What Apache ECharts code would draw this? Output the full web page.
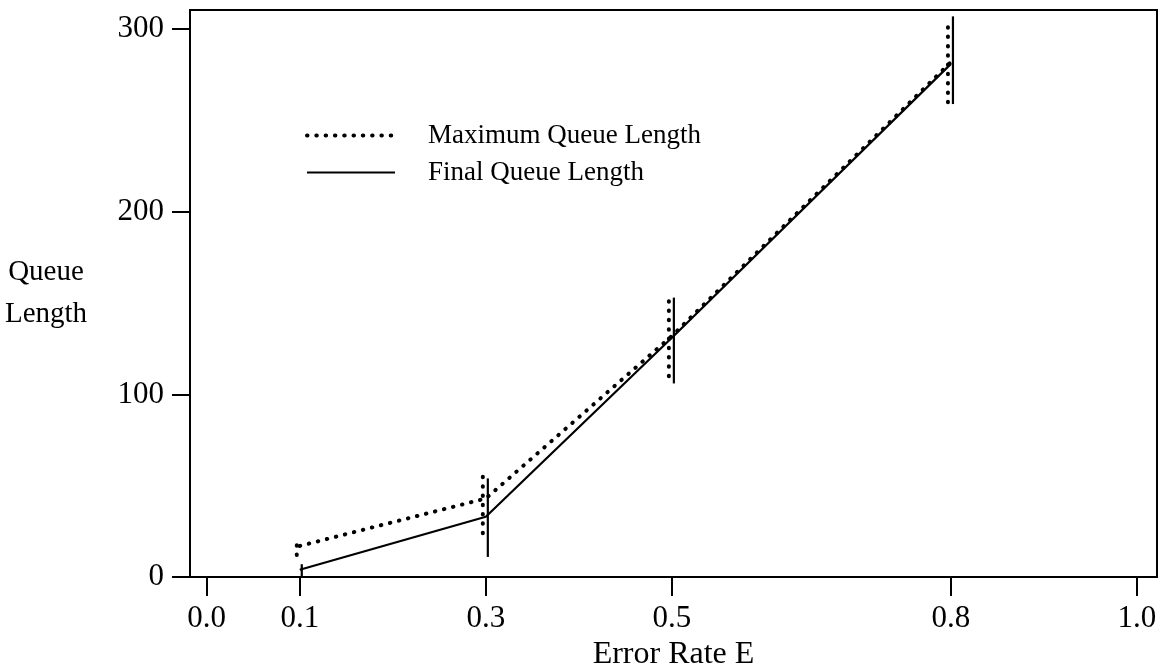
<!DOCTYPE html>
<html>
<head>
<meta charset="utf-8">
<script src="https://cdn.jsdelivr.net/npm/echarts@6/dist/echarts.min.js"></script>
<style>html,body{margin:0;padding:0;background:#fff}#c{width:1160px;height:669px}</style>
</head>
<body>
<div id="c"></div>
<script>
// ---- data ----
var errorRate = [0.1, 0.3, 0.5, 0.8];
var maxQueue = [17, 43, 132, 282];
var finalQueue = [4, 33, 131, 281];
var maxLow = [12, 24, 110, 260];
var maxHigh = [18, 58, 152, 305];
var finalLow = [0, 11, 106, 259];
var finalHigh = [7, 54, 153, 307];
var xTicks = [0.0, 0.1, 0.3, 0.5, 0.8, 1.0];
var yTicks = [0, 100, 200, 300];
var seriesNames = ['Maximum Queue Length', 'Final Queue Length'];

var FONT = 'Liberation Serif';
var DOT = [0.5, 8.8];

function pairs(xs, ys) { return xs.map(function (x, i) { return [x, ys[i]]; }); }
function bars(xs, lo, hi) { return xs.map(function (x, i) { return [x, lo[i], hi[i]]; }); }

function barRenderer(offset, dash, width) {
  return function (params, api) {
    var p1 = api.coord([api.value(0), api.value(1)]);
    var p2 = api.coord([api.value(0), api.value(2)]);
    return {
      type: 'line',
      shape: { x1: p1[0] + offset, y1: p1[1], x2: p2[0] + offset, y2: p2[1] },
      style: { stroke: '#000', lineWidth: width, lineDash: dash, lineCap: dash ? 'round' : 'butt' }
    };
  };
}

var chart = echarts.init(document.getElementById('c'), null, { renderer: 'canvas' });
chart.setOption({
  animation: false,
  backgroundColor: '#fff',
  textStyle: { fontFamily: FONT, color: '#000' },
  grid: {
    left: 190, top: 10, right: 3, bottom: 92, show: true, borderColor: '#000', borderWidth: 2,
    containLabel: false, outerBoundsMode: 'none'
  },
  legend: {
    data: [
      { name: seriesNames[0], lineStyle: { width: 4, type: DOT, cap: 'round', color: '#000' } },
      { name: seriesNames[1], lineStyle: { width: 2.2, color: '#000' } }
    ],
    orient: 'vertical',
    left: 300,
    top: 117,
    itemWidth: 88,
    itemHeight: 14,
    itemGap: 10,
    itemStyle: { opacity: 0 },
    textStyle: { fontFamily: FONT, fontSize: 27, color: '#000', padding: [0, 0, 0, 28] }
  },
  xAxis: {
    type: 'value',
    min: -0.018,
    max: 1.0215,
    name: 'Error Rate E',
    nameLocation: 'middle',
    nameGap: 52,
    nameTextStyle: { fontFamily: FONT, fontSize: 32, color: '#000' },
    axisLine: { onZero: false, lineStyle: { color: '#000', width: 2 } },
    axisTick: { length: 19, customValues: xTicks, lineStyle: { color: '#000', width: 2 } },
    axisLabel: {
      customValues: xTicks, margin: 26, fontFamily: FONT, fontSize: 31, color: '#000',
      formatter: function (v) { return v.toFixed(1); }
    },
    splitLine: { show: false }
  },
  yAxis: {
    type: 'value',
    min: 0,
    max: 310.5,
    name: 'Queue\nLength',
    nameLocation: 'middle',
    nameRotate: 0,
    nameGap: 144,
    nameTextStyle: { fontFamily: FONT, fontSize: 29, color: '#000', align: 'center', lineHeight: 42 },
    axisLine: { show: true, onZero: false, lineStyle: { color: '#000', width: 2 } },
    axisTick: { show: true, length: 18, customValues: yTicks, lineStyle: { color: '#000', width: 2 } },
    axisLabel: { customValues: yTicks, margin: 26, fontFamily: FONT, fontSize: 31, color: '#000' },
    splitLine: { show: false }
  },
  series: [
    {
      name: seriesNames[0], type: 'line', data: pairs(errorRate, maxQueue),
      symbol: 'none', silent: true,
      lineStyle: { color: '#000', width: 4, type: DOT, cap: 'round' },
      itemStyle: { color: '#000' }
    },
    {
      name: seriesNames[1], type: 'line', data: pairs(errorRate, finalQueue),
      symbol: 'none', silent: true,
      lineStyle: { color: '#000', width: 2.2, type: 'solid' },
      itemStyle: { color: '#000' }
    },
    {
      name: 'maxBars', type: 'custom', data: bars(errorRate, maxLow, maxHigh),
      renderItem: barRenderer(-3, DOT, 4), silent: true
    },
    {
      name: 'finalBars', type: 'custom', data: bars(errorRate, finalLow, finalHigh),
      renderItem: barRenderer(2, null, 2.2), silent: true
    }
  ]
});
</script>
</body>
</html>
